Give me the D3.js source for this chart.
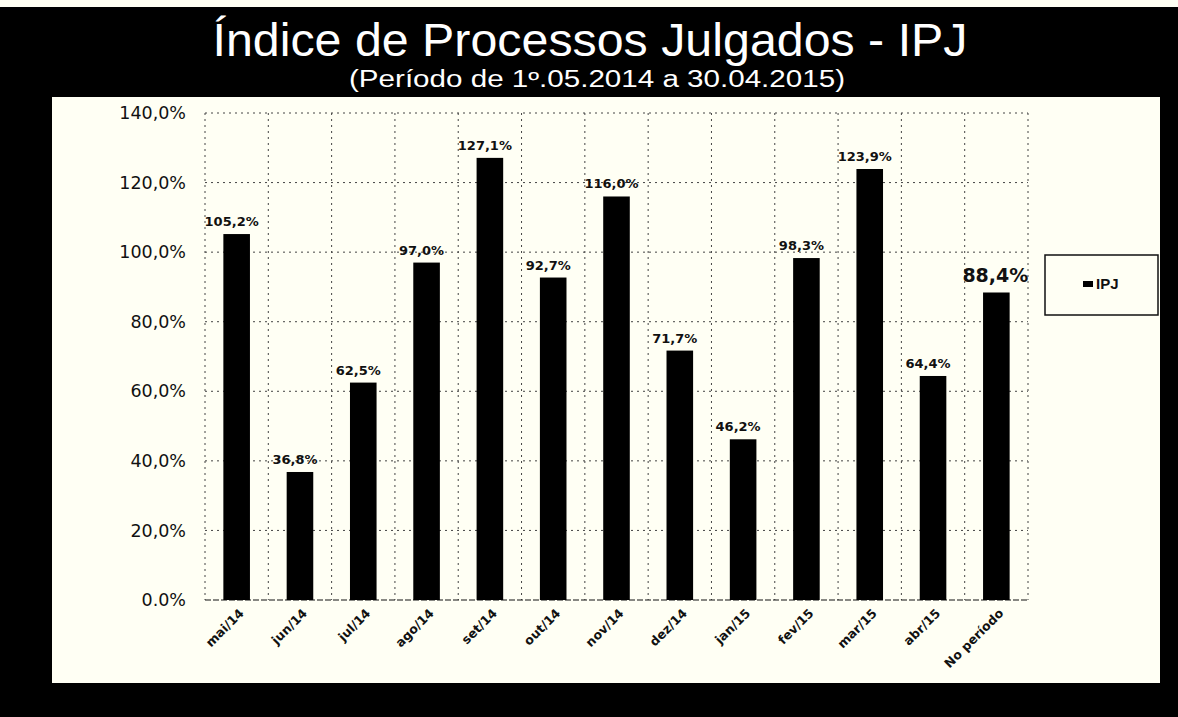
<!DOCTYPE html>
<html>
<head>
<meta charset="utf-8">
<script src="https://cdn.jsdelivr.net/npm/d3@7"></script>
<style>
  body { margin: 0; background: #000; }
  svg { display: block; }
  .tick-label { font-family: "DejaVu Sans", Verdana, sans-serif; font-size: 17.5px; fill: #111; }
  .cat-label { font-family: "DejaVu Sans", Verdana, sans-serif; font-size: 12.5px; font-weight: bold; fill: #111; }
  .val-label { font-family: "DejaVu Sans", Verdana, sans-serif; font-weight: bold; fill: #111; }
</style>
</head>
<body>
<div id="chart"></div>
<script>
const categories = ["mai/14", "jun/14", "jul/14", "ago/14", "set/14", "out/14", "nov/14",
  "dez/14", "jan/15", "fev/15", "mar/15", "abr/15", "No período"];
const ipjValues = [105.2, 36.8, 62.5, 97.0, 127.1, 92.7, 116.0, 71.7, 46.2, 98.3, 123.9, 64.4, 88.4];
const valueLabels = ["105,2%", "36,8%", "62,5%", "97,0%", "127,1%", "92,7%", "116,0%",
  "71,7%", "46,2%", "98,3%", "123,9%", "64,4%", "88,4%"];
const yTicks = [0, 20, 40, 60, 80, 100, 120, 140];
const yTickLabels = ["0.0%", "20,0%", "40,0%", "60,0%", "80,0%", "100,0%", "120,0%", "140,0%"];

const width = 1178, height = 717;
const plot = { left: 205, right: 1028, top: 113, bottom: 600 };
const ink = "#111";
const paper = "#fffff4";

const svg = d3.select("#chart")
  .append("svg")
  .attr("width", width)
  .attr("height", height)
  .attr("viewBox", `0 0 ${width} ${height}`);

// frame: black page with cream panel
svg.append("rect").attr("width", width).attr("height", height).attr("fill", "#000");
svg.append("rect").attr("width", width).attr("height", 7).attr("fill", paper);
svg.append("rect")
  .attr("x", 52).attr("y", 97)
  .attr("width", 1160 - 52).attr("height", 683 - 97)
  .attr("fill", paper);

svg.append("text")
  .attr("x", 590).attr("y", 56)
  .attr("text-anchor", "middle")
  .attr("font-family", "'Liberation Sans', Arial, sans-serif")
  .attr("font-size", 47)
  .attr("textLength", 755)
  .attr("lengthAdjust", "spacingAndGlyphs")
  .attr("fill", "#fff")
  .text("Índice de Processos Julgados - IPJ");

svg.append("text")
  .attr("x", 597).attr("y", 87)
  .attr("text-anchor", "middle")
  .attr("font-family", "'Liberation Sans', Arial, sans-serif")
  .attr("font-size", 23)
  .attr("textLength", 496)
  .attr("lengthAdjust", "spacingAndGlyphs")
  .attr("fill", "#fff")
  .text("(Período de 1º.05.2014  a  30.04.2015)");

const xScale = d3.scaleBand()
  .domain(categories)
  .range([plot.left, plot.right])
  .paddingInner(0.58)
  .paddingOuter(0.29);

const yScale = d3.scaleLinear()
  .domain([0, 140])
  .range([plot.bottom, plot.top]);

// gridlines
const grid = svg.append("g")
  .attr("stroke", "#444")
  .attr("stroke-width", 1)
  .attr("stroke-dasharray", "2,4");

grid.selectAll("line.h")
  .data(yTicks.filter(d => d > 0))
  .join("line")
  .attr("class", "h")
  .attr("x1", plot.left).attr("x2", plot.right)
  .attr("y1", d => yScale(d)).attr("y2", d => yScale(d));

const boundaries = d3.range(categories.length + 1).map(i => plot.left + i * (plot.right - plot.left) / categories.length);
grid.selectAll("line.v")
  .data(boundaries)
  .join("line")
  .attr("class", "v")
  .attr("x1", d => d).attr("x2", d => d)
  .attr("y1", plot.top).attr("y2", plot.bottom);

svg.append("line")
  .attr("x1", plot.left).attr("x2", plot.right)
  .attr("y1", plot.bottom).attr("y2", plot.bottom)
  .attr("stroke", ink)
  .attr("stroke-dasharray", "6,2");

// bars
svg.append("g")
  .selectAll("rect")
  .data(ipjValues)
  .join("rect")
  .attr("x", (d, i) => xScale(categories[i]))
  .attr("y", d => yScale(d))
  .attr("width", xScale.bandwidth())
  .attr("height", d => yScale(0) - yScale(d))
  .attr("fill", "#000");

// value labels (last one, the period total, is larger)
svg.append("g")
  .selectAll("text")
  .data(ipjValues)
  .join("text")
  .attr("class", "val-label")
  .attr("x", (d, i) => xScale(categories[i]) + xScale.bandwidth() / 2 - (i === categories.length - 1 ? 1 : 5))
  .attr("y", (d, i) => yScale(d) - (i === categories.length - 1 ? 10 : 8))
  .attr("text-anchor", "middle")
  .attr("font-size", (d, i) => i === categories.length - 1 ? 19 : 13)
  .text((d, i) => valueLabels[i]);

// y axis
const leftAxisG = svg.append("g")
  .attr("transform", `translate(${plot.left},0)`)
  .call(d3.axisLeft(yScale).tickValues(yTicks).tickSize(0).tickPadding(19)
    .tickFormat((d, i) => yTickLabels[i]));
leftAxisG.select(".domain").remove();
leftAxisG.selectAll("text")
  .attr("class", "tick-label")
  .attr("font-size", null)
  .attr("font-family", null);

// x axis
const bottomAxisG = svg.append("g")
  .attr("transform", `translate(0,${plot.bottom})`)
  .call(d3.axisBottom(xScale).tickSize(0).tickPadding(0));
bottomAxisG.select(".domain").remove();
bottomAxisG.selectAll("text")
  .attr("class", "cat-label")
  .attr("font-size", null)
  .attr("font-family", null)
  .attr("text-anchor", "end")
  .attr("dy", null)
  .attr("transform", "translate(8,14) rotate(-45)");

// legend
const legend = svg.append("g").attr("transform", "translate(1045,255)");
legend.append("rect")
  .attr("width", 113).attr("height", 60)
  .attr("fill", paper)
  .attr("stroke", ink)
  .attr("stroke-width", 1.5);
legend.append("rect")
  .attr("x", 38).attr("y", 26).attr("width", 10).attr("height", 6)
  .attr("fill", "#000");
legend.append("text")
  .attr("x", 51).attr("y", 34)
  .attr("font-family", "'Liberation Sans', Arial, sans-serif")
  .attr("font-size", 15)
  .attr("font-weight", "bold")
  .attr("fill", ink)
  .text("IPJ");
</script>
</body>
</html>
